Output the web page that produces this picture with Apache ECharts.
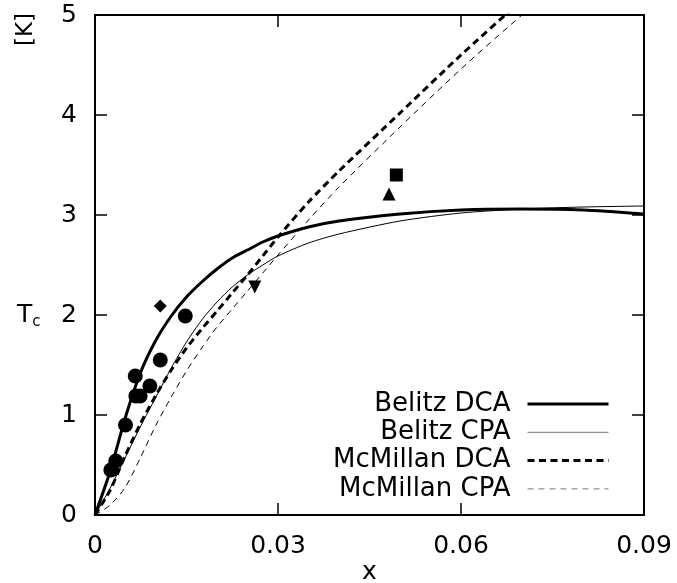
<!DOCTYPE html>
<html>
<head>
<meta charset="utf-8">
<script src="https://cdn.jsdelivr.net/npm/echarts@6/dist/echarts.min.js"></script>
<style>
  html, body { margin: 0; padding: 0; background: #fff; }
  #chart { width: 677px; height: 583px; }
</style>
</head>
<body>
<div id="chart"></div>
<script>
// Concentration grid (x) shared by the four model curves
const xs = [0, 0.0025, 0.005, 0.0075, 0.01, 0.0125, 0.015, 0.0175, 0.02, 0.0225, 0.025, 0.0275, 0.03, 0.035, 0.04, 0.05, 0.06, 0.07, 0.08, 0.09];
// Critical temperature Tc [K] from each model
const belitzDCA   = [0, 0.44, 0.98, 1.43, 1.75, 1.99, 2.18, 2.33, 2.46, 2.57, 2.65, 2.73, 2.79, 2.88, 2.94, 3.01, 3.05, 3.06, 3.05, 3.01];
const belitzCPA   = [0, 0.27, 0.58, 0.89, 1.18, 1.47, 1.73, 1.95, 2.13, 2.28, 2.40, 2.50, 2.59, 2.72, 2.81, 2.94, 3.02, 3.06, 3.08, 3.09];
const mcmillanDCA = [0, 0.25, 0.60, 0.92, 1.20, 1.45, 1.67, 1.86, 2.04, 2.22, 2.40, 2.59, 2.78, 3.13, 3.44, 4.02, 4.60, 5.15, 5.70, 6.20];
const mcmillanCPA = [0, 0.10, 0.28, 0.58, 0.90, 1.18, 1.44, 1.67, 1.88, 2.06, 2.24, 2.42, 2.60, 2.95, 3.28, 3.88, 4.46, 5.00, 5.50, 6.00];

// Experimental points [x, Tc]
const circlePts   = [[0.0026, 0.45], [0.0034, 0.54], [0.0050, 0.90], [0.0066, 1.39], [0.0067, 1.19], [0.0074, 1.19], [0.0090, 1.29], [0.0107, 1.55], [0.0148, 1.99]];
const diamondPts  = [[0.0107, 2.09]];
const triDownPts  = [[0.0262, 2.28]];
const triUpPts    = [[0.0482, 3.21]];
const squarePts   = [[0.0494, 3.40]];

const xTicks = { min: 0, max: 0.09, interval: 0.03 };
const yTicks = { min: 0, max: 5, interval: 1 };

const FONT = '"DejaVu Sans", Verdana, sans-serif';
const zip = (ys) => xs.map((x, i) => [x, ys[i]]);

const chart = echarts.init(document.getElementById('chart'), null, { renderer: 'canvas' });

const axisLine = { show: true, onZero: false, lineStyle: { color: '#000', width: 2 } };
const axisTick = { show: true, inside: true, length: 12, lineStyle: { color: '#000', width: 1.5 } };

function lineSeries(name, ys, width, dash) {
  return {
    name, type: 'line', data: zip(ys), showSymbol: false, symbol: 'none',
    smooth: 0.25, clip: true,
    lineStyle: { color: '#000', width, type: dash || 'solid' },
    itemStyle: { color: '#000' },
    z: 3
  };
}
function pointSeries(data, symbol, size, rotate) {
  return {
    type: 'scatter', data, symbol, symbolSize: size, symbolRotate: rotate || 0,
    itemStyle: { color: '#000', opacity: 1 }, z: 4, silent: true
  };
}

chart.setOption({
  animation: false,
  backgroundColor: '#fff',
  grid: { left: 95, right: 33, top: 15, bottom: 68, containLabel: false },
  xAxis: [
    { type: 'value', position: 'bottom', ...xTicks, axisLine, axisTick,
      splitLine: { show: false },
      axisLabel: { color: '#000', fontSize: 25, fontFamily: FONT, margin: 19 } },
    { type: 'value', position: 'top', ...xTicks, axisLine, axisTick,
      splitLine: { show: false }, axisLabel: { show: false } }
  ],
  yAxis: [
    { type: 'value', position: 'left', ...yTicks, axisLine, axisTick,
      splitLine: { show: false },
      axisLabel: { color: '#000', fontSize: 25, fontFamily: FONT, margin: 18 } },
    { type: 'value', position: 'right', ...yTicks, axisLine, axisTick,
      splitLine: { show: false }, axisLabel: { show: false } }
  ],
  legend: {
    data: [
      { name: 'Belitz DCA', lineStyle: { width: 3, color: '#000' } },
      { name: 'Belitz CPA', lineStyle: { width: 1, color: '#777' } },
      { name: 'McMillan DCA', lineStyle: { width: 3, color: '#000' } },
      { name: 'McMillan CPA', lineStyle: { width: 1, color: '#777' } }
    ],
    orient: 'vertical', align: 'right', right: 62, top: 385,
    itemWidth: 81, itemHeight: 14, itemGap: 0.3,
    itemStyle: { opacity: 0 },
    lineStyle: { width: 'inherit', type: 'inherit' },
    textStyle: { color: '#000', fontSize: 26, fontFamily: FONT, lineHeight: 28, padding: [0, 12, 0, 0] },
    selectedMode: false
  },
  series: [
    lineSeries('Belitz DCA', belitzDCA, 3),
    lineSeries('Belitz CPA', belitzCPA, 1),
    lineSeries('McMillan DCA', mcmillanDCA, 3, [7, 4.5]),
    lineSeries('McMillan CPA', mcmillanCPA, 1, [6, 5]),
    pointSeries(circlePts, 'circle', 15),
    pointSeries(diamondPts, 'diamond', 13),
    pointSeries(triDownPts, 'triangle', 13, 180),
    pointSeries(triUpPts, 'triangle', 13),
    pointSeries(squarePts, 'rect', 13)
  ],
  graphic: [
    { type: 'text', left: 15, top: 13, rotation: Math.PI / 2,
      style: { text: '[K]', font: '23px ' + FONT, fill: '#000' } },
    { type: 'text', left: 17, top: 303,
      style: { text: '{t|T}{s|c}', fill: '#000',
        rich: { t: { fontSize: 25, fontFamily: FONT, fill: '#000' },
                s: { fontSize: 15, fontFamily: FONT, fill: '#000', padding: [14, 0, 0, 0] } } } },
    { type: 'text', left: 362, top: 560,
      style: { text: 'x', font: '25px ' + FONT, fill: '#000' } }
  ]
});
</script>
</body>
</html>
